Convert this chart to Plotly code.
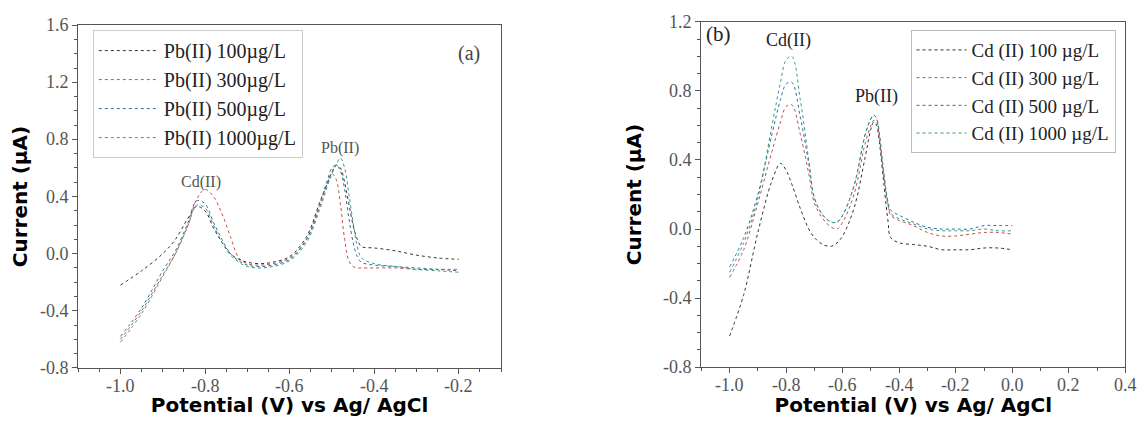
import plotly.graph_objects as go

# panel (a): Pb(II) concentration series
xa = [-1.0, -0.95, -0.9, -0.87, -0.84, -0.82, -0.80, -0.78, -0.76, -0.74, -0.72, -0.70, -0.67, -0.64,
      -0.60, -0.56, -0.53, -0.51, -0.50, -0.49, -0.48, -0.47, -0.46, -0.45, -0.44, -0.43, -0.40, -0.35,
      -0.30, -0.25, -0.20]
pb_100 = [-0.22, -0.12, 0.0, 0.1, 0.25, 0.33, 0.30, 0.18, 0.08, 0.0, -0.04, -0.06, -0.07, -0.06, -0.02, 0.12,
          0.35, 0.5, 0.57, 0.62, 0.60, 0.50, 0.35, 0.2, 0.1, 0.05, 0.04, 0.02, -0.01, -0.03, -0.04]
pb_300 = [-0.6, -0.4, -0.15, 0.0, 0.2, 0.38, 0.45, 0.40, 0.28, 0.12, -0.03, -0.07, -0.08, -0.07, -0.03, 0.1,
          0.32, 0.5, 0.56, 0.52, 0.35, 0.1, -0.05, -0.09, -0.1, -0.1, -0.1, -0.1, -0.11, -0.11, -0.11]
pb_500 = [-0.58, -0.38, -0.12, 0.02, 0.22, 0.37, 0.35, 0.22, 0.1, 0.0, -0.05, -0.08, -0.09, -0.08, -0.04, 0.1,
          0.34, 0.52, 0.6, 0.62, 0.58, 0.45, 0.25, 0.08, -0.02, -0.06, -0.08, -0.09, -0.1, -0.11, -0.12]
pb_1000 = [-0.62, -0.42, -0.16, 0.0, 0.2, 0.34, 0.32, 0.2, 0.08, -0.01, -0.06, -0.09, -0.1, -0.09, -0.05, 0.08,
           0.3, 0.48, 0.56, 0.62, 0.67, 0.60, 0.42, 0.22, 0.05, -0.03, -0.07, -0.09, -0.11, -0.12, -0.13]

# panel (b): Cd(II) concentration series
xb = [-1.0, -0.95, -0.9, -0.85, -0.82, -0.80, -0.78, -0.75, -0.72, -0.70, -0.67, -0.64, -0.62, -0.60,
      -0.56, -0.52, -0.50, -0.49, -0.48, -0.47, -0.46, -0.44, -0.43, -0.40, -0.35, -0.30, -0.25, -0.20,
      -0.15, -0.10, -0.05, 0.0]
cd_100 = [-0.62, -0.38, -0.02, 0.28, 0.38, 0.34, 0.26, 0.12, 0.0, -0.05, -0.09, -0.1, -0.08, -0.04, 0.12, 0.42,
          0.58, 0.62, 0.6, 0.5, 0.35, 0.05, -0.05, -0.08, -0.09, -0.1, -0.12, -0.12, -0.12, -0.11, -0.11, -0.12]
cd_300 = [-0.28, -0.12, 0.15, 0.45, 0.62, 0.71, 0.72, 0.55, 0.32, 0.15, 0.06, 0.01, 0.0, 0.04, 0.2, 0.5,
          0.6, 0.63, 0.62, 0.52, 0.38, 0.14, 0.08, 0.05, 0.02, -0.02, -0.04, -0.04, -0.03, -0.02, -0.02, -0.03]
cd_500 = [-0.22, -0.05, 0.2, 0.55, 0.75, 0.84, 0.85, 0.65, 0.38, 0.18, 0.08, 0.04, 0.04, 0.08, 0.25, 0.55,
          0.64, 0.66, 0.64, 0.55, 0.4, 0.16, 0.11, 0.08, 0.04, 0.01, 0.0, 0.0, 0.0, 0.02, 0.02, 0.02]
cd_1000 = [-0.25, -0.08, 0.18, 0.6, 0.85, 0.98, 1.0, 0.75, 0.4, 0.18, 0.08, 0.04, 0.04, 0.08, 0.25, 0.55,
           0.64, 0.66, 0.64, 0.55, 0.4, 0.15, 0.09, 0.06, 0.03, 0.0, -0.01, -0.01, -0.01, 0.0, -0.01, -0.01]

# tick labels
xticks_a = [-1.0, -0.8, -0.6, -0.4, -0.2]
yticks_a = [-0.8, -0.4, 0.0, 0.4, 0.8, 1.2, 1.6]
xticks_b = [-1.0, -0.8, -0.6, -0.4, -0.2, 0.0, 0.2, 0.4]
yticks_b = [-0.8, -0.4, 0.0, 0.4, 0.8, 1.2]

colors = ["#333333", "#c0504d", "#2f6fa8", "#3a9a80"]
serif = "Liberation Serif"

fig = go.Figure()
names_a = ["Pb(II) 100µg/L", "Pb(II) 300µg/L", "Pb(II) 500µg/L", "Pb(II) 1000µg/L"]
for name, ys, c in zip(names_a, [pb_100, pb_300, pb_500, pb_1000], colors):
    fig.add_trace(go.Scatter(x=xa, y=ys, name=name, mode="lines", line=dict(color=c, width=1, dash="dot", shape="spline"),
                             xaxis="x", yaxis="y", legend="legend"))
names_b = ["Cd (II) 100 µg/L", "Cd (II) 300 µg/L", "Cd (II) 500 µg/L", "Cd (II) 1000 µg/L"]
for name, ys, c in zip(names_b, [cd_100, cd_300, cd_500, cd_1000], colors):
    fig.add_trace(go.Scatter(x=xb, y=ys, name=name, mode="lines", line=dict(color=c, width=1, dash="dot", shape="spline"),
                             xaxis="x2", yaxis="y2", legend="legend2"))

title_font = dict(family="DejaVu Sans", size=20, color="black")

def axis(ticks_list, **kw):
    base = dict(showline=True, linecolor="#555", linewidth=1, mirror=True, ticks="outside", ticklen=5,
                tickcolor="#555", showgrid=False, zeroline=False, tickvals=ticks_list, showticklabels=False,
                automargin=False, minor=dict(ticks="outside", ticklen=3, tickcolor="#555"))
    base.update(kw)
    return base

# page has an 8px body margin, so the figure is drawn slightly smaller
fig.update_layout(
    width=1131, height=409, plot_bgcolor="white", paper_bgcolor="white",
    margin=dict(l=0, r=0, t=0, b=0), showlegend=True,
    xaxis=axis(xticks_a, domain=[0.062, 0.436], range=[-1.1, -0.1], anchor="y",
               title=dict(text="<b>Potential (V) vs Ag/ AgCl</b>", font=title_font, standoff=31)),
    yaxis=axis(yticks_a, domain=[0.120, 0.958], range=[-0.8, 1.6], anchor="x",
               title=dict(text="<b>Current (µA)</b>", font=title_font, standoff=40)),
    xaxis2=axis(xticks_b, domain=[0.613, 0.988], range=[-1.1, 0.4], anchor="y2",
                title=dict(text="<b>Potential (V) vs Ag/ AgCl</b>", font=title_font, standoff=31)),
    yaxis2=axis(yticks_b, domain=[0.122, 0.966], range=[-0.8, 1.2], anchor="x2",
                title=dict(text="<b>Current (µA)</b>", font=title_font, standoff=48)),
    legend=dict(x=0.075, y=0.946, xanchor="left", yanchor="top", bgcolor="white", bordercolor="#ccc", borderwidth=1,
                font=dict(family=serif, size=20, color="#222"), tracegroupgap=0, itemwidth=60),
    legend2=dict(x=0.798, y=0.946, xanchor="left", yanchor="top", bgcolor="white", bordercolor="#bbb", borderwidth=1,
                 font=dict(family=serif, size=19, color="#222"), tracegroupgap=0, itemwidth=50),
)

tick_font = dict(family=serif, size=18, color="#555")
for xr, yr, xt, yt in [("x", "y", xticks_a, yticks_a), ("x2", "y2", xticks_b, yticks_b)]:
    for v in xt:
        fig.add_annotation(x=v, y=0, xref=xr, yref=yr + " domain", text=f"{v:.1f}", showarrow=False,
                           yanchor="top", yshift=-6, font=tick_font)
    for v in yt:
        fig.add_annotation(x=0, y=v, xref=xr + " domain", yref=yr, text=f"{v:.1f}", showarrow=False,
                           xanchor="right", xshift=-7, font=tick_font)

ann_font = dict(family=serif, size=16, color="#555")
fig.add_annotation(x=-0.81, y=0.5, xref="x", yref="y", text="Cd(II)", showarrow=False, font=ann_font)
fig.add_annotation(x=-0.48, y=0.74, xref="x", yref="y", text="Pb(II)", showarrow=False, font=ann_font)
fig.add_annotation(x=-0.175, y=1.4, xref="x", yref="y", text="(a)", showarrow=False, font=dict(family=serif, size=20, color="#444"))
fig.add_annotation(x=-1.04, y=1.13, xref="x2", yref="y2", text="(b)", showarrow=False, font=dict(family=serif, size=21, color="#222"))
fig.add_annotation(x=-0.79, y=1.09, xref="x2", yref="y2", text="Cd(II)", showarrow=False, font=dict(family=serif, size=18, color="#222"))
fig.add_annotation(x=-0.48, y=0.77, xref="x2", yref="y2", text="Pb(II)", showarrow=False, font=dict(family=serif, size=18, color="#222"))

fig.write_html("out.html")
